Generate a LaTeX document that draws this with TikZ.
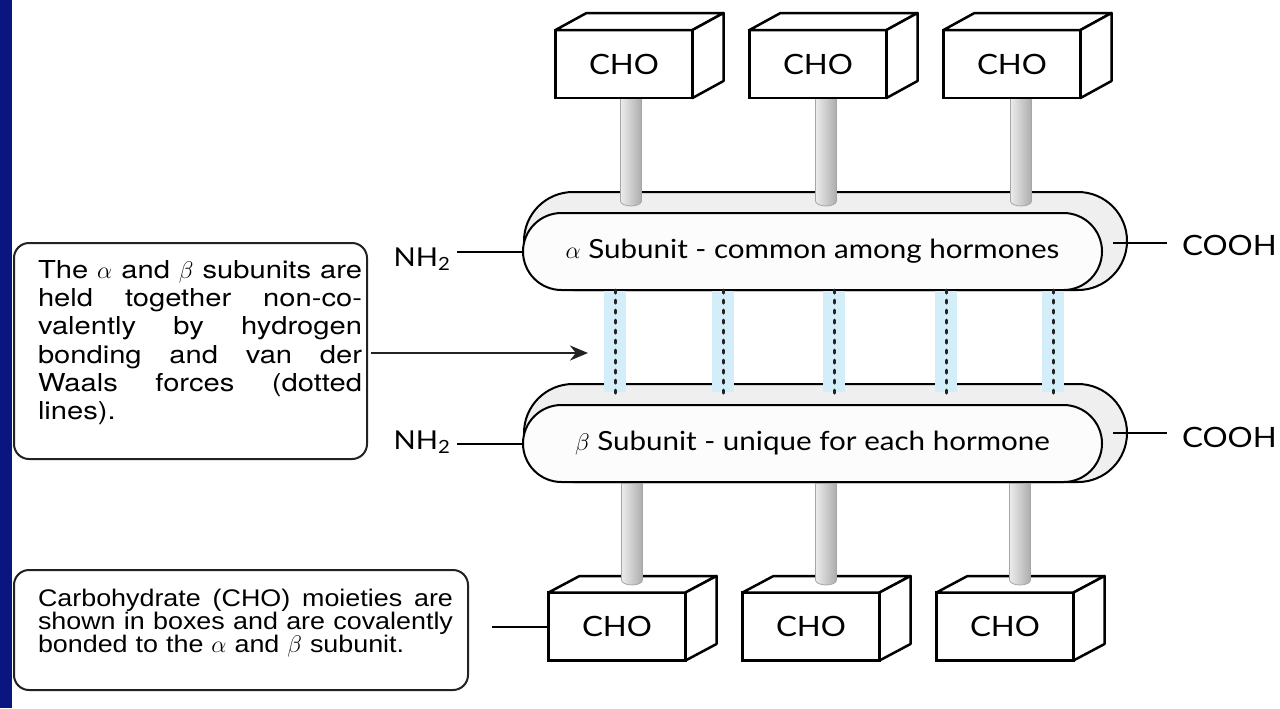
\documentclass[tikz,border=0pt]{standalone}
\usepackage{fontspec}
\setmainfont{Liberation Sans}
\newfontfamily\notefont[FakeStretch=1.12]{Liberation Sans}
\newfontfamily\notewidefont[FakeStretch=1.18]{TeX Gyre Heros}
\newfontfamily\gillfont[FakeStretch=1.12]{Lato}
\usetikzlibrary{arrows.meta,positioning,calc}
\definecolor{mNavy}{HTML}{0A1580}
\definecolor{mBond}{HTML}{D4EEF9}
\definecolor{mBack}{HTML}{EFEFEF}
\definecolor{mFront}{HTML}{FCFCFC}
\definecolor{mInk}{HTML}{222222}
\tikzset{
  >=Stealth,
  note/.style   ={draw=mInk,line width=1pt,rounded corners=7.5pt,fill=white,align=left,inner xsep=2.5pt,inner ysep=0pt,outer sep=0pt},
  capsule/.style={draw=black,line width=1pt,fill=mFront,rounded corners=19.25pt,minimum width=289.5pt,minimum height=38.5pt,inner sep=0pt,outer sep=0pt,font=\gillfont\fontsize{13.2}{15}\selectfont},
  capback/.style={draw=black,line width=1pt,fill=mBack,rounded corners=24.5pt},
  chobox/.style ={draw=black,line width=1.25pt,fill=white,minimum width=68.5pt,minimum height=34pt,inner sep=0pt,outer sep=0pt,font=\gillfont\fontsize{14}{16}\selectfont},
  cubeface/.style={draw=black,line width=1.25pt,fill=white,line join=round},
  rod/.style    ={left color=gray!15,right color=gray!65,draw=gray!70,line width=0.4pt},
  bondband/.style={fill=mBond},
  hbond/.style  ={draw=mInk,line width=1.5pt,line cap=round,dash pattern=on 1.6pt off 3.4pt},
  term/.style   ={inner sep=0pt,outer sep=0pt},
  link/.style   ={draw=black,line width=1pt},
  rel/.style    ={-{Stealth[length=9pt,width=7.5pt]},line width=1.3pt,mInk},
}

\begin{document}
\begin{tikzpicture}[x=0.5pt,y=-0.5pt]
  \fill[white] (0,0) rectangle (1280,708);
  \fill[mNavy] (0,0) rectangle (12,708);

  % the two subunits
  \draw[capback] (524,192) rectangle (1127,290);
  \node[capsule] (alpha) at (812.5,251.5) {$\alpha$ Subunit - common among hormones};
  \draw[capback] (524,384) rectangle (1127,482);
  \node[capsule] (beta) at (812.5,443.5) {$\beta$ Subunit - unique for each hormone};

  % non-covalent bonds
  \foreach \x in {615,723,834,946,1053}{
    \fill[bondband] (\x-11,291) rectangle (\x+11,392);
    \draw[hbond] (\x,0 |- alpha.south) -- (\x,393);
  }

  % CHO on the alpha subunit
  \foreach \n/\bx/\rx in {1/624/631,2/818/826,3/1012/1021}{
    \shade[rod] (\rx-10.5,96) -- (\rx-10.5,201) arc[start angle=180,end angle=0,x radius=10.5,y radius=5] -- (\rx+10.5,96) -- cycle;
    \node[chobox] (top\n) at (\bx,64) {CHO};
    \draw[cubeface] (top\n.north west) -- ++(31,-17) -- ([shift={(31,-17)}]top\n.north east) -- (top\n.north east) -- cycle;
    \draw[cubeface] (top\n.north east) -- ++(31,-17) -- ([shift={(31,-17)}]top\n.south east) -- (top\n.south east) -- cycle;
  }

  % CHO on the beta subunit
  \foreach \n/\bx/\rx in {1/617/632,2/811/826,3/1005/1020}{
    \node[chobox] (bot\n) at (\bx,626.5) {CHO};
    \draw[cubeface] (bot\n.north west) -- ++(31,-16.5) -- ([shift={(31,-16.5)}]bot\n.north east) -- (bot\n.north east) -- cycle;
    \draw[cubeface] (bot\n.north east) -- ++(31,-16.5) -- ([shift={(31,-16.5)}]bot\n.south east) -- (bot\n.south east) -- cycle;
    \shade[rod] (\rx-10.5,483.5) -- (\rx-10.5,580) arc[start angle=180,end angle=0,x radius=10.5,y radius=5] -- (\rx+10.5,483.5) -- cycle;
  }

  % termini
  \node[term,anchor=base east,font=\gillfont\fontsize{13}{15}\selectfont] (nha) at (451,266) {NH\textsubscript{2}};
  \node[term,anchor=base east,font=\gillfont\fontsize{13}{15}\selectfont] (nhb) at (451,449) {NH\textsubscript{2}};
  \draw[link,shorten <=3pt] (alpha.west -| nha.east) -- (alpha.west);
  \draw[link,shorten <=3pt] (beta.west -| nhb.east) -- (beta.west);
  \coordinate (ca) at (1113,243);
  \coordinate (cb) at (1113,433);
  \node[term,anchor=west,font=\gillfont\fontsize{14}{16}\selectfont] (cooha) at (1182,245) {COOH};
  \node[term,anchor=west,font=\gillfont\fontsize{14}{16}\selectfont] (coohb) at (1182,437) {COOH};
  \draw[link,shorten >=7.5pt] (ca) -- (ca -| cooha.west);
  \draw[link,shorten >=7.5pt] (cb) -- (cb -| coohb.west);

  % notes
  \node[note,text width=171.5pt,minimum height=108pt,anchor=north west,
        font=\notewidefont\fontsize{12.35}{14.15}\selectfont] (note1) at (14,243) {%
    \hspace*{9.5pt}\makebox[162pt][s]{The \hfill$\alpha$ \hfill and \hfill$\beta$ \hfill subunits \hfill are}\\
    \hspace*{9.5pt}\makebox[162pt][s]{held \hfill together \hfill non-co-}\\
    \hspace*{9.5pt}\makebox[162pt][s]{valently \hfill by \hfill hydrogen}\\
    \hspace*{9.5pt}\makebox[162pt][s]{bonding \hfill and \hfill van \hfill der}\\
    \hspace*{9.5pt}\makebox[162pt][s]{Waals \hfill forces \hfill (dotted}\\
    \hspace*{9.5pt}lines).\rule[-11pt]{0pt}{0pt}};
  \node[note,text width=222pt,minimum height=60pt,anchor=north west,
        font=\notefont\fontsize{12}{11.5}\selectfont] (note2) at (14,570) {%
    \hspace*{9.5pt}\makebox[207.5pt][s]{Carbohydrate \hfill (CHO) \hfill moieties \hfill are}\\
    \hspace*{9.5pt}\makebox[207.5pt][s]{shown \hfill in \hfill boxes \hfill and \hfill are \hfill covalently}\\
    \hspace*{9.5pt}bonded to the $\alpha$ and $\beta$ subunit.\rule[-8.75pt]{0pt}{0pt}};

  \coordinate (hb) at (588,353);
  \draw[rel,shorten <=2pt] (note1.east |- hb) -- (hb);
  \draw[link,shorten <=12pt] (bot1.west -| note2.east) -- (bot1.west);
\end{tikzpicture}
\end{document}
